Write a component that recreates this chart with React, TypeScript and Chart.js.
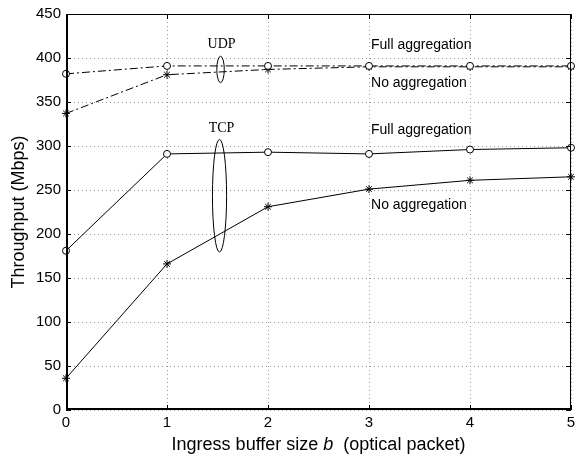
import React, { useEffect, useRef } from "react";
import { Chart, registerables } from "chart.js";

Chart.register(...registerables);

const bufferSizes = [0, 1, 2, 3, 4, 5];
const udpFull = [382, 391, 391, 391, 391, 391];
const udpNo = [337, 381, 387, 390, 390, 390];
const tcpFull = [181, 291, 293, 291, 296, 298];
const tcpNo = [36, 166, 231, 251, 261, 265];

const yTicks = [0, 50, 100, 150, 200, 250, 300, 350, 400, 450];
const xTicks = [0, 1, 2, 3, 4, 5];

// annotation text labels (data coordinates)
const textLabels = [
  { text: "Full aggregation", x: 3.02, y: 415, serif: false, align: "left" },
  { text: "No aggregation", x: 3.02, y: 371, serif: false, align: "left" },
  { text: "Full aggregation", x: 3.02, y: 318, serif: false, align: "left" },
  { text: "No aggregation", x: 3.02, y: 233, serif: false, align: "left" },
  { text: "UDP", x: 1.54, y: 416, serif: true, align: "center" },
  { text: "TCP", x: 1.54, y: 320, serif: true, align: "center" },
];
// ellipses: center x,y and half-extents in data units
const ellipses = [
  { x: 1.53, y: 387, rx: 0.037, ry: 15 },
  { x: 1.52, y: 243.5, rx: 0.07, ry: 64 },
];

const overlay = {
  id: "overlay",
  afterDatasetsDraw(chart: any) {
    const { ctx, chartArea: a, scales } = chart;
    const xs = scales.x;
    const ys = scales.y;
    ctx.save();
    // box
    ctx.strokeStyle = "#000";
    ctx.lineWidth = 1;
    ctx.setLineDash([]);
    ctx.strokeRect(a.left + 0.5, a.top + 0.5, a.right - a.left - 1, a.bottom - a.top - 1);
    ctx.lineWidth = 2;
    ctx.beginPath();
    ctx.moveTo(a.left + 1, a.top);
    ctx.lineTo(a.left + 1, a.bottom - 1);
    ctx.lineTo(a.right, a.bottom - 1);
    ctx.stroke();
    // inward ticks
    ctx.lineWidth = 1;
    ctx.beginPath();
    for (const v of yTicks) {
      const py = Math.round(ys.getPixelForValue(v)) + 0.5;
      ctx.moveTo(a.left, py);
      ctx.lineTo(a.left + 5, py);
      ctx.moveTo(a.right, py);
      ctx.lineTo(a.right - 5, py);
    }
    for (const v of xTicks) {
      const px = Math.round(xs.getPixelForValue(v)) + 0.5;
      ctx.moveTo(px, a.bottom);
      ctx.lineTo(px, a.bottom - 5);
      ctx.moveTo(px, a.top);
      ctx.lineTo(px, a.top + 5);
    }
    ctx.stroke();
    // ellipses
    ctx.lineWidth = 1;
    for (const e of ellipses) {
      const cx = xs.getPixelForValue(e.x);
      const cy = ys.getPixelForValue(e.y);
      const rx = Math.abs(xs.getPixelForValue(e.x + e.rx) - cx);
      const ry = Math.abs(ys.getPixelForValue(e.y + e.ry) - cy);
      ctx.beginPath();
      ctx.ellipse(cx, cy, rx, ry, 0, 0, Math.PI * 2);
      ctx.stroke();
    }
    // text labels
    ctx.fillStyle = "#000";
    ctx.textBaseline = "middle";
    for (const t of textLabels) {
      ctx.font = t.serif ? "14px 'Liberation Serif', 'Times New Roman', serif" : "14px 'Liberation Sans', Arial, sans-serif";
      ctx.textAlign = t.align as CanvasTextAlign;
      ctx.fillText(t.text, xs.getPixelForValue(t.x), ys.getPixelForValue(t.y));
    }
    // x title with italic b
    const parts = [
      { s: "Ingress buffer size ", it: false },
      { s: "b", it: true },
      { s: "  (optical packet)", it: false },
    ];
    const fontN = "18px 'Liberation Sans', Arial, sans-serif";
    const fontI = "italic 18px 'Liberation Sans', Arial, sans-serif";
    let total = 0;
    for (const p of parts) {
      ctx.font = p.it ? fontI : fontN;
      total += ctx.measureText(p.s).width;
    }
    let px = (a.left + a.right) / 2 - total / 2;
    ctx.textAlign = "left";
    ctx.textBaseline = "middle";
    const ty = a.bottom + 35;
    for (const p of parts) {
      ctx.font = p.it ? fontI : fontN;
      ctx.fillText(p.s, px, ty);
      px += ctx.measureText(p.s).width;
    }
    // y title
    ctx.translate(19, (a.top + a.bottom) / 2);
    ctx.rotate(-Math.PI / 2);
    ctx.textAlign = "center";
    ctx.font = fontN;
    ctx.fillText("Throughput (Mbps)", 0, 0);
    ctx.restore();
  },
};

function mk(label: string, data: number[], style: string, dash: number[]) {
  return {
    label,
    data: bufferSizes.map((x, i) => ({ x, y: data[i] })),
    borderColor: "#000",
    backgroundColor: "#fff",
    borderWidth: 1,
    borderDash: dash,
    pointStyle: style,
    pointRadius: style === "circle" ? 3.5 : 4,
    pointBorderColor: "#000",
    pointBackgroundColor: "#fff",
    pointBorderWidth: 1,
    tension: 0,
    fill: false,
    clip: false,
  };
}

export default function App() {
  const ref = useRef<HTMLCanvasElement>(null);
  useEffect(() => {
    document.body.style.margin = "0";
    const chart = new Chart(ref.current!, {
      type: "line",
      data: {
        datasets: [
          mk("UDP full", udpFull, "circle", [8, 3, 2, 3]),
          mk("UDP no", udpNo, "star", [8, 3, 2, 3]),
          mk("TCP full", tcpFull, "circle", []),
          mk("TCP no", tcpNo, "star", []),
        ] as any,
      },
      options: {
        animation: false,
        responsive: false,
        maintainAspectRatio: false,
        layout: { padding: { top: 12, right: 9, left: 0, bottom: 0 } },
        plugins: { legend: { display: false }, tooltip: { enabled: false } },
        scales: {
          x: {
            type: "linear",
            min: 0,
            max: 5,
            afterFit: (s: any) => { s.height = 47; },
            afterBuildTicks: (s: any) => { s.ticks = xTicks.map((v) => ({ value: v })); },
            grid: { color: "#999", lineWidth: 1, drawTicks: false },
            border: { display: false, dash: [1, 3] },
            ticks: { color: "#000", padding: 4, font: { size: 15, family: "'Liberation Sans', Arial, sans-serif" } },
          },
          y: {
            type: "linear",
            min: 0,
            max: 450,
            afterFit: (s: any) => { s.width = 66; },
            afterBuildTicks: (s: any) => { s.ticks = yTicks.map((v) => ({ value: v })); },
            grid: { color: "#999", lineWidth: 1, drawTicks: false },
            border: { display: false, dash: [1, 3] },
            ticks: { color: "#000", padding: 5, font: { size: 15, family: "'Liberation Sans', Arial, sans-serif" } },
          },
        },
      },
      plugins: [overlay],
    });
    return () => chart.destroy();
  }, []);
  return (
    <div style={{ position: "absolute", left: 0, top: 0, width: 580, height: 457, background: "#fff" }}>
      <canvas ref={ref} width={580} height={457} style={{ width: 580, height: 457 }} />
    </div>
  );
}
